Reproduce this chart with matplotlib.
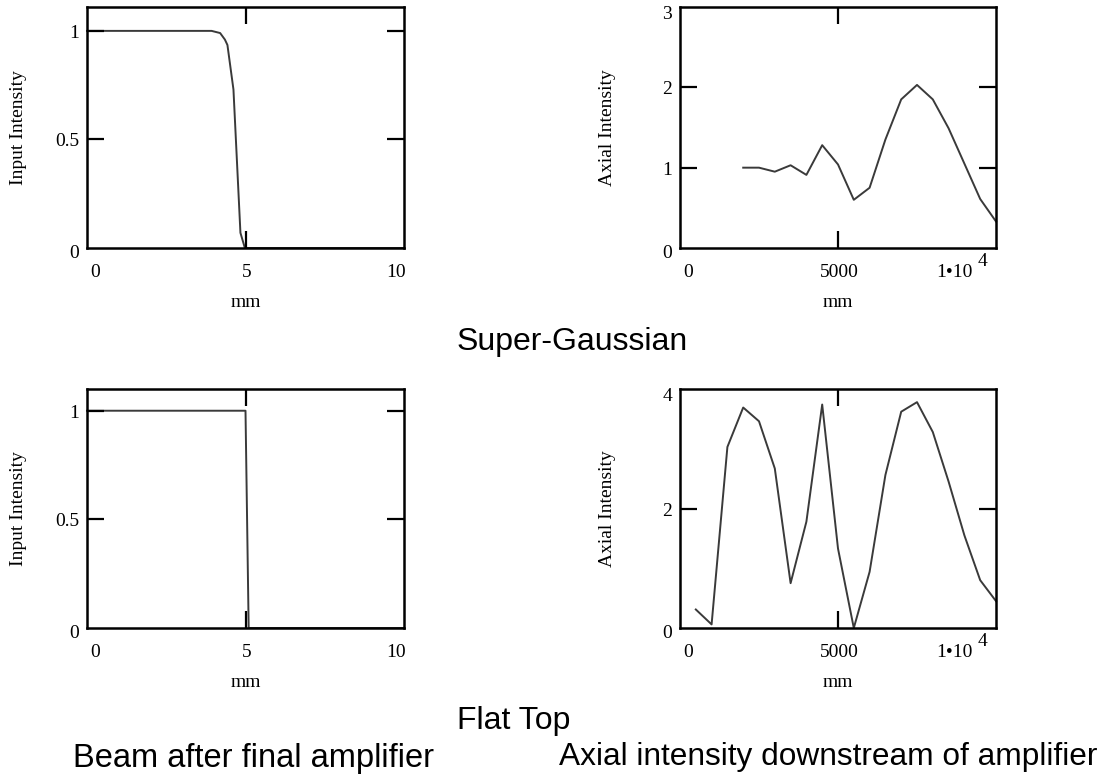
"""
Mathcad-style beam profile / axial intensity comparison (super-Gaussian vs flat top).
"""

import matplotlib

matplotlib.use("Agg")
import matplotlib.pyplot as plt

# --- data ---------------------------------------------------------------
sg_r = [0.0, 3.93, 4.2, 4.35, 4.43, 4.62, 4.84, 4.98, 10.0]
sg_input = [1.0, 1.0, 0.99, 0.96, 0.935, 0.73, 0.07, 0.0, 0.0]

ft_r = [0.0, 5.0, 5.1, 10.0]
ft_input = [1.0, 1.0, 0.0, 0.0]

sg_z = [2000, 2500, 3000, 3500, 4000, 4500, 5000, 5500, 6000, 6500,
        7000, 7500, 8000, 8500, 9000, 9500, 10000]
sg_axial = [1.00, 1.00, 0.95, 1.03, 0.91, 1.28, 1.04, 0.60, 0.75, 1.35,
            1.85, 2.03, 1.85, 1.49, 1.05, 0.61, 0.33]

ft_z = [500, 1000, 1500, 2000, 2500, 3000, 3500, 4000, 4500, 5000,
        5500, 6000, 6500, 7000, 7500, 8000, 8500, 9000, 9500, 10000]
ft_axial = [0.31, 0.06, 3.03, 3.69, 3.46, 2.67, 0.75, 1.78, 3.74, 1.33,
            0.0, 0.94, 2.56, 3.62, 3.78, 3.28, 2.45, 1.55, 0.8, 0.45]

input_yticks = [0, 0.5, 1]
input_ylabels = ["0", "0.5", "1"]
input_xticks = [0, 5, 10]
input_xlabels = ["0", "5", "10"]

sg_axial_yticks = [0, 1, 2, 3]
sg_axial_ylabels = ["0", "1", "2", "3"]
ft_axial_yticks = [0, 2, 4]
ft_axial_ylabels = ["0", "2", "4"]
axial_xticks = [0, 5000, 10000]
axial_xlabels = ["0", "5000", "1\u202210"]

# --- style --------------------------------------------------------------
SERIF = ["Liberation Serif", "DejaVu Serif"]
SANS = ["Liberation Sans", "DejaVu Sans"]
LINE = "#3a3a3a"
PX = 0.72  # points per pixel at dpi 100

plt.rcParams["font.family"] = SERIF
plt.rcParams["font.size"] = 14


def style_axes(ax, xlim, ylim, xt, xl, yt, yl, ylabel, ylabel_x, sup=None):
    ax.set_xlim(*xlim)
    ax.set_ylim(*ylim)
    inner_x = [v for v in xt if xlim[0] < v < xlim[1] - 1e-9 * abs(xlim[1])]
    inner_y = [v for v in yt if ylim[0] < v < ylim[1] - 1e-9]
    ax.set_xticks(inner_x)
    ax.set_yticks(inner_y)
    ax.tick_params(direction="in", length=12, width=1.6, color="black",
                   top=True, right=True, labelbottom=False, labelleft=False)
    for s in ax.spines.values():
        s.set_linewidth(1.8)
        s.set_color("black")

    # x tick labels (Mathcad places the end labels inside the frame)
    n = len(xt)
    for i, (v, s) in enumerate(zip(xt, xl)):
        if i == 0:
            ha, dx = "left", 3
        elif i == n - 1:
            ha, dx = "right", (2 if sup is None else -23)
        else:
            ha, dx = "center", 1.5
        ax.annotate(s, xy=(v, 0), xycoords=("data", "axes fraction"),
                    xytext=(dx * PX, -29 * PX), textcoords="offset points",
                    ha=ha, va="baseline", fontsize=14, family=SERIF)
    if sup is not None:
        ax.annotate(sup, xy=(xt[-1], 0), xycoords=("data", "axes fraction"),
                    xytext=(-18 * PX, -18 * PX), textcoords="offset points",
                    ha="left", va="baseline", fontsize=14, family=SERIF)

    # y tick labels
    for v, s in zip(yt, yl):
        if v == ylim[0]:
            dy = 10
        elif abs(v - ylim[1]) < 1e-9:
            dy = 12
        else:
            dy = 7
        ax.annotate(s, xy=(0, v), xycoords=("axes fraction", "data"),
                    xytext=(-8 * PX, -dy * PX), textcoords="offset points",
                    ha="right", va="baseline", fontsize=14, family=SERIF)

    ax.text(ylabel_x, 0.5, ylabel, transform=ax.transAxes, rotation=90,
            ha="center", va="center", fontsize=14, family=SERIF)
    ax.text(0.5, -0.228, "mm", transform=ax.transAxes,
            ha="center", va="center", fontsize=14, family=SERIF)


fig = plt.figure(figsize=(10.99, 7.75), dpi=100)

ax1 = fig.add_axes([87 / 1099, 527 / 775, 317 / 1099, 241 / 775])
ax2 = fig.add_axes([680 / 1099, 527 / 775, 316 / 1099, 241 / 775])
ax3 = fig.add_axes([87 / 1099, 147 / 775, 317 / 1099, 239 / 775])
ax4 = fig.add_axes([680 / 1099, 147 / 775, 316 / 1099, 239 / 775])

ax1.plot(sg_r, sg_input, color=LINE, lw=1.4, clip_on=False, zorder=1)
ax2.plot(sg_z, sg_axial, color=LINE, lw=1.4, clip_on=False, zorder=1)
ax3.plot(ft_r, ft_input, color=LINE, lw=1.4, clip_on=False, zorder=1)
ax4.plot(ft_z, ft_axial, color=LINE, lw=1.4, clip_on=False, zorder=1)

style_axes(ax1, (0, 10), (0, 1.11), input_xticks, input_xlabels,
           input_yticks, input_ylabels, "Input Intensity", -0.216)
style_axes(ax2, (0, 10000), (0, 3), axial_xticks, axial_xlabels,
           sg_axial_yticks, sg_axial_ylabels, "Axial Intensity", -0.228, sup="4")
style_axes(ax3, (0, 10), (0, 1.10), input_xticks, input_xlabels,
           input_yticks, input_ylabels, "Input Intensity", -0.216)
style_axes(ax4, (0, 10000), (0, 4), axial_xticks, axial_xlabels,
           ft_axial_yticks, ft_axial_ylabels, "Axial Intensity", -0.228, sup="4")

fig.text(457 / 1099, 425 / 775, "Super-Gaussian", family=SANS, fontsize=23,
         ha="left", va="baseline")
fig.text(457 / 1099, 46 / 775, "Flat Top", family=SANS, fontsize=23,
         ha="left", va="baseline")
fig.text(73 / 1099, 8 / 775, "Beam after final amplifier", family=SANS,
         fontsize=23.5, ha="left", va="baseline")
fig.text(1097 / 1099, 10 / 775, "Axial intensity downstream of amplifier",
         family=SANS, fontsize=22.8, ha="right", va="baseline")

fig.savefig("out.png", dpi=100)
